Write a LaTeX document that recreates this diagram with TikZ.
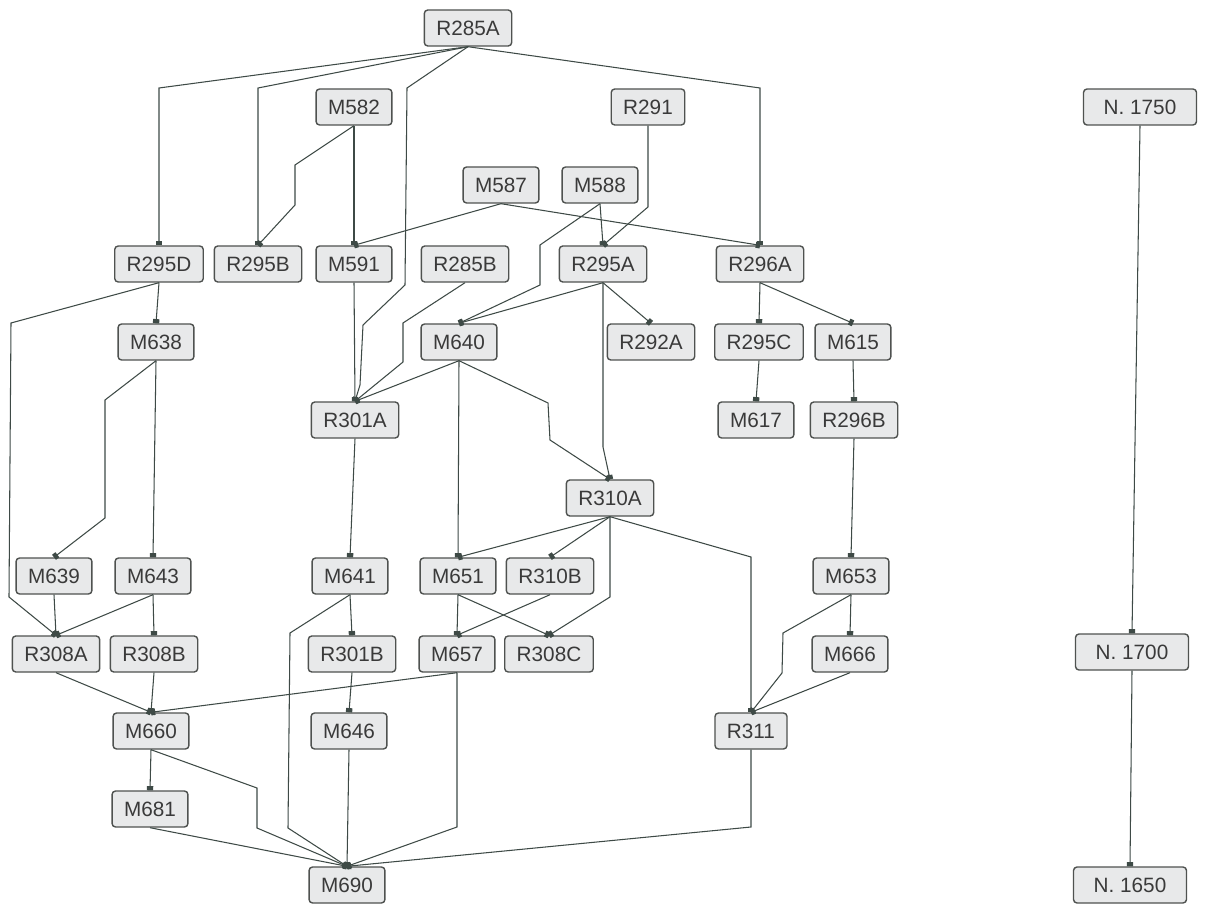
\documentclass[tikz,border=0pt]{standalone}
\usepackage{fontspec}
\setmainfont{Liberation Sans}
\usetikzlibrary{arrows.meta}

\begin{document}
\begin{tikzpicture}[font=\fontsize{11.8}{13}\selectfont]

\definecolor{unitfill}{HTML}{E8E9EA}
\definecolor{unitline}{HTML}{4F5250}
\definecolor{unittext}{HTML}{3A3A3A}
\definecolor{linkline}{HTML}{3E4A46}

\tikzset{
  unit/.style={
    draw=unitline, fill=unitfill, text=unittext, rounded corners=2pt,
    line width=0.8pt, minimum height=0.72cm, inner xsep=0.24cm, inner ysep=0pt
  },
  datum/.style={unit, minimum width=2.26cm},
  link/.style={
    draw=linkline, line width=0.6pt, -{Square[length=2.4pt,width=3.6pt]}
  }
}

\useasboundingbox (0,0) rectangle (24.16,18.06);

% Top of the sequence.
\node[unit] (r285a) at (9.36,17.50) {R285A};
\node[unit] (m582)  at (7.08,15.92) {M582};
\node[unit] (r291)  at (12.96,15.92) {R291};
\node[unit] (m587)  at (10.02,14.36) {M587};
\node[unit] (m588)  at (12.00,14.36) {M588};

\node[unit] (r295d) at (3.18,12.78) {R295D};
\node[unit] (r295b) at (5.16,12.78) {R295B};
\node[unit] (m591)  at (7.08,12.78) {M591};
\node[unit] (r285b) at (9.30,12.78) {R285B};
\node[unit] (r295a) at (12.06,12.78) {R295A};
\node[unit] (r296a) at (15.20,12.78) {R296A};

\node[unit] (m638)  at (3.12,11.22) {M638};
\node[unit] (m640)  at (9.18,11.22) {M640};
\node[unit] (r292a) at (13.02,11.22) {R292A};
\node[unit] (r295c) at (15.18,11.22) {R295C};
\node[unit] (m615)  at (17.06,11.22) {M615};

\node[unit] (r301a) at (7.10,9.66) {R301A};
\node[unit] (m617)  at (15.12,9.66) {M617};
\node[unit] (r296b) at (17.08,9.66) {R296B};

\node[unit] (r310a) at (12.20,8.10) {R310A};

% Lower half.
\node[unit] (m639)  at (1.08,6.54) {M639};
\node[unit] (m643)  at (3.06,6.54) {M643};
\node[unit] (m641)  at (7.00,6.54) {M641};
\node[unit] (m651)  at (9.16,6.54) {M651};
\node[unit] (r310b) at (11.00,6.54) {R310B};
\node[unit] (m653)  at (17.02,6.54) {M653};

\node[unit] (r308a) at (1.12,4.98) {R308A};
\node[unit] (r308b) at (3.08,4.98) {R308B};
\node[unit] (r301b) at (7.04,4.98) {R301B};
\node[unit] (m657)  at (9.14,4.98) {M657};
\node[unit] (r308c) at (10.98,4.98) {R308C};
\node[unit] (m666)  at (17.00,4.98) {M666};

\node[unit] (m660)  at (3.02,3.44) {M660};
\node[unit] (m646)  at (6.98,3.44) {M646};
\node[unit] (r311)  at (15.02,3.44) {R311};

\node[unit] (m681)  at (3.00,1.88) {M681};
\node[unit] (m690)  at (6.94,0.36) {M690};

% Time scale on the right.
\node[datum] (n1750) at (22.80,15.92) {N. 1750};
\node[datum] (n1700) at (22.64,5.02) {N. 1700};
\node[datum] (n1650) at (22.60,0.36) {N. 1650};

% Straight links.
\foreach \from/\to in {
  m582/m591, m587/m591, m587/r296a, m588/r295a,
  r295d/m638, m638/m643, m591/r301a, m640/r301a,
  r295a/m640, r295a/r292a, m640/m651,
  r296a/r295c, r296a/m615, r295c/m617, m615/r296b, r296b/m653,
  r301a/m641, r310a/m651, r310a/r310b,
  m639/r308a, m643/r308a, m643/r308b, m641/r301b,
  m651/m657, m651/r308c, r310b/m657, m653/m666, m666/r311,
  r308a/m660, r308b/m660, m657/m660, r301b/m646,
  m660/m681, m681/m690, m646/m690,
  n1750/n1700, n1700/n1650}
  \draw[link] (\from.south) -- (\to.north);

% Links that bend on their way down.
\draw[link] (r285a.south) -- (r295d.north |- 0,16.30) -- (r295d.north);
\draw[link] (r285a.south) -- (r295b.north |- 0,16.30) -- (r295b.north);
\draw[link] (r285a.south) -- (8.14,16.30) -- (8.10,12.36) -- (7.26,11.56)
  -- (7.20,10.36) -- (r301a.north);
\draw[link] (r285a.south) -- (r296a.north |- 0,16.30) -- (r296a.north);
\draw[link] (m582.south) -- (5.90,14.76) -- (5.90,13.96) -- (r295b.north);
\draw[link] (m588.south) -- (10.80,13.16) -- (10.80,12.36) -- (m640.north);
\draw[link] (r291.south) -- (r291.south |- 0,13.92) -- (r295a.north);
\draw[link] (r295d.south) -- (0.22,11.60) -- (0.18,6.12) -- (r308a.north);
\draw[link] (m638.south) -- (2.10,10.06) -- (2.10,7.70) -- (m639.north);
\draw[link] (r285b.south) -- (8.06,11.60) -- (8.06,10.82) -- (r301a.north);
\draw[link] (r295a.south) -- (r295a.south |- 0,9.12) -- (r310a.north);
\draw[link] (m640.south) -- (10.96,10.00) -- (11.00,9.26) -- (r310a.north);
\draw[link] (r310a.south) -- (r310a.south |- 0,6.12) -- (r308c.north);
\draw[link] (r310a.south) -- (r311.north |- 0,6.92) -- (r311.north);
\draw[link] (m641.south) -- (5.80,5.40) -- (5.76,1.50) -- (m690.north);
\draw[link] (m653.south) -- (15.66,5.40) -- (15.64,4.60) -- (r311.north);
\draw[link] (m660.south) -- (5.14,2.30) -- (5.14,1.50) -- (m690.north);
\draw[link] (m657.south) -- (m657.south |- 0,1.52) -- (m690.north);
\draw[link] (r311.south) -- (r311.south |- 0,1.52) -- (m690.north);

\end{tikzpicture}
\end{document}
